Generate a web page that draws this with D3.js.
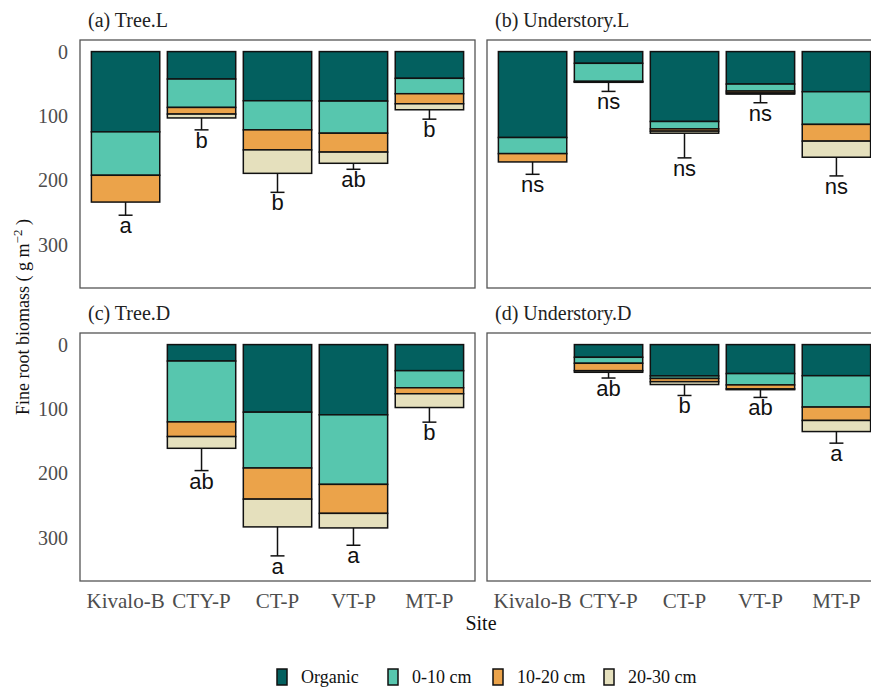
<!DOCTYPE html>
<html><head><meta charset="utf-8">
<script src="https://cdn.jsdelivr.net/npm/d3@7"></script>
<style>body{margin:0;background:#fff}</style></head>
<body>
<svg id="chart" width="871" height="688"></svg>
<script>
// ---------- data ----------
const sites = ["Kivalo-B", "CTY-P", "CT-P", "VT-P", "MT-P"];
const layers = ["Organic", "0-10 cm", "10-20 cm", "20-30 cm"];
const layerColors = ["#03605f", "#57c6ae", "#eba34a", "#e5e0bd"];
const yTicks = [0, 100, 200, 300];

// (a) Tree.L
const treeL_organic = [124.6, 42.6, 76.3, 76.8, 41.5];
const treeL_d0_10   = [67.4, 44.1, 45.2, 49.9, 23.9];
const treeL_d10_20  = [41.6, 10.3, 31.1, 29.3, 15.6];
const treeL_d20_30  = [0, 6.0, 36.4, 17.4, 9.3];
const treeL_errEnd  = [254, 121.5, 218.5, 182.7, 104.9];
const treeL_letters = ["a", "b", "b", "ab", "b"];

// (b) Understory.L
const underL_organic = [133.4, 18.2, 108.5, 50.4, 62.3];
const underL_d0_10   = [25.0, 28.0, 11.5, 10.9, 50.7];
const underL_d10_20  = [12.9, 1.0, 3.5, 3.0, 26.0];
const underL_d20_30  = [0, 0.5, 3.2, 1.7, 25.0];
const underL_errEnd  = [190.5, 61.8, 165, 79.4, 193];
const underL_letters = ["ns", "ns", "ns", "ns", "ns"];

// (c) Tree.D  (no data for Kivalo-B)
const treeD_organic = [null, 25.5, 104.9, 109.0, 40.5];
const treeD_d0_10   = [null, 94.5, 86.7, 108.0, 26.5];
const treeD_d10_20  = [null, 22.8, 48.3, 45.0, 9.3];
const treeD_d20_30  = [null, 18.2, 43.1, 22.6, 21.4];
const treeD_errEnd  = [null, 195.6, 328, 311.5, 120.4];
const treeD_letters = ["", "ab", "a", "a", "b"];

// (d) Understory.D  (no data for Kivalo-B)
const underD_organic = [null, 19.7, 48.6, 45.0, 48.3];
const underD_d0_10   = [null, 9.3, 4.0, 17.6, 48.7];
const underD_d10_20  = [null, 11.5, 5.0, 6.2, 20.8];
const underD_d20_30  = [null, 2.5, 4.4, 1.2, 17.2];
const underD_errEnd  = [null, 51.9, 79, 82, 153];
const underD_letters = ["", "ab", "b", "ab", "a"];

// ---------- layout ----------
const svg = d3.select("#chart");
const serif = "'Liberation Serif','Times New Roman',serif";
const sans = "'Liberation Sans',Arial,sans-serif";
const panelW = 395, panelH = 248;

const panels = [
  {title: "(a) Tree.L", left: 80, top: 40, yAxis: true, xAxis: false,
   vals: [treeL_organic, treeL_d0_10, treeL_d10_20, treeL_d20_30], err: treeL_errEnd, letters: treeL_letters},
  {title: "(b) Understory.L", left: 487, top: 40, yAxis: false, xAxis: false,
   vals: [underL_organic, underL_d0_10, underL_d10_20, underL_d20_30], err: underL_errEnd, letters: underL_letters},
  {title: "(c) Tree.D", left: 80, top: 333, yAxis: true, xAxis: true,
   vals: [treeD_organic, treeD_d0_10, treeD_d10_20, treeD_d20_30], err: treeD_errEnd, letters: treeD_letters},
  {title: "(d) Understory.D", left: 487, top: 333, yAxis: false, xAxis: true,
   vals: [underD_organic, underD_d0_10, underD_d10_20, underD_d20_30], err: underD_errEnd, letters: underD_letters}
];

panels.forEach(p => {
  const x = d3.scaleBand().domain(sites).range([p.left, p.left + panelW])
    .paddingInner(0.1).paddingOuter(0.15);
  const y = d3.scaleLinear().domain([-18, 367]).range([p.top, p.top + panelH]);

  const rows = sites.map((s, i) => {
    const r = {site: s, has: p.vals[0][i] !== null};
    layers.forEach((l, j) => r[l] = p.vals[j][i] || 0);
    return r;
  }).filter(r => r.has);
  const series = d3.stack().keys(layers)(rows);

  const g = svg.append("g");
  g.append("rect").attr("x", p.left).attr("y", p.top).attr("width", panelW).attr("height", panelH)
    .attr("fill", "none").attr("stroke", "#555").attr("stroke-width", 1.3);

  series.forEach((ser, j) => {
    g.selectAll(null).data(ser.filter(d => d[1] - d[0] > 0)).join("rect")
      .attr("x", d => x(d.data.site))
      .attr("width", x.bandwidth())
      .attr("y", d => y(d[0]))
      .attr("height", d => y(d[1]) - y(d[0]))
      .attr("fill", layerColors[j])
      .attr("stroke", "#111").attr("stroke-width", 1.5);
  });

  sites.forEach((s, i) => {
    if (p.err[i] === null) return;
    const total = p.vals.reduce((a, v) => a + (v[i] || 0), 0);
    const cx = x(s) + x.bandwidth() / 2;
    g.append("line").attr("x1", cx).attr("x2", cx).attr("y1", y(total)).attr("y2", y(p.err[i]))
      .attr("stroke", "#111").attr("stroke-width", 1.5);
    g.append("line").attr("x1", cx - 7).attr("x2", cx + 7).attr("y1", y(p.err[i])).attr("y2", y(p.err[i]))
      .attr("stroke", "#111").attr("stroke-width", 1.5);
    g.append("text").attr("x", cx).attr("y", y(p.err[i]) + 18)
      .attr("text-anchor", "middle").attr("font-family", sans).attr("font-size", 22)
      .attr("fill", "#111").text(p.letters[i]);
  });

  svg.append("text").attr("x", p.left + 8).attr("y", p.top - 13)
    .attr("font-family", serif).attr("font-size", 20).attr("fill", "#222").text(p.title);

  if (p.yAxis) {
    const ax = svg.append("g").attr("transform", `translate(${p.left},0)`)
      .call(d3.axisLeft(y).tickValues(yTicks).tickSize(0).tickPadding(12));
    ax.select(".domain").remove();
    ax.selectAll("text").attr("font-family", serif).attr("font-size", 20).attr("fill", "#4d4d4d");
  }
  if (p.xAxis) {
    const ax = svg.append("g").attr("transform", `translate(0,${p.top + panelH})`)
      .call(d3.axisBottom(x).tickSize(0).tickPadding(12));
    ax.select(".domain").remove();
    ax.selectAll("text").attr("font-family", serif).attr("font-size", 21).attr("fill", "#4d4d4d");
  }
});

// axis titles
svg.append("text").attr("x", 481).attr("y", 630).attr("text-anchor", "middle")
  .attr("font-family", serif).attr("font-size", 20).attr("fill", "#111").text("Site");

const yt = svg.append("text").attr("transform", "translate(29,317) rotate(-90)")
  .attr("text-anchor", "middle").attr("font-family", serif).attr("font-size", 18).attr("fill", "#111");
yt.append("tspan").text("Fine root biomass ( g m");
yt.append("tspan").attr("dy", -7).attr("font-size", 13).text("\u22122");
yt.append("tspan").attr("dy", 7).text(" )");

// legend
const legendKeyX = [277, 388, 493, 604];
const leg = svg.append("g");
layers.forEach((l, j) => {
  const lx = legendKeyX[j];
  leg.append("rect").attr("x", lx).attr("y", 669).attr("width", 10).attr("height", 16)
    .attr("fill", layerColors[j]).attr("stroke", "#111").attr("stroke-width", 1.5);
  leg.append("text").attr("x", lx + 24).attr("y", 683)
    .attr("font-family", serif).attr("font-size", 18).attr("fill", "#111").text(l);
});
</script>
</body></html>
